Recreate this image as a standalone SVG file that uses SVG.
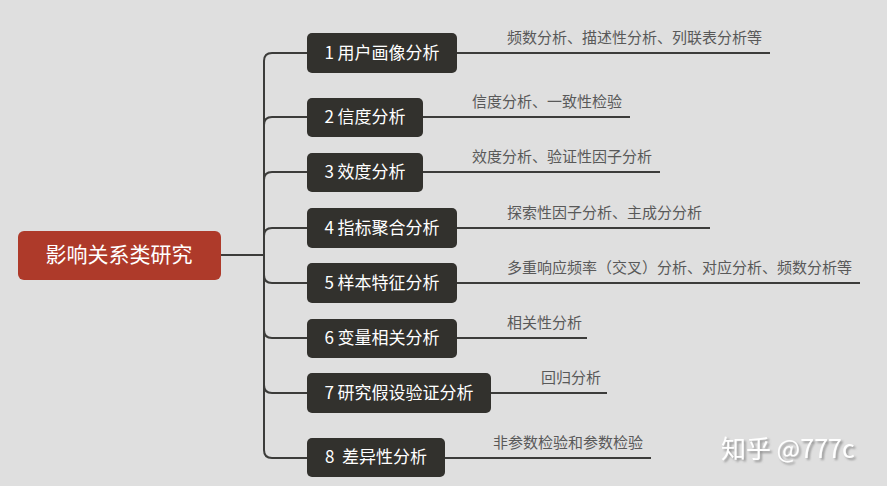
<svg xmlns="http://www.w3.org/2000/svg" width="887" height="486" viewBox="0 0 887 486">
<style>
.bg{fill:#dfdfdf}
.root{fill:#ae3a2a}
.node{fill:#32312d}
.rt{font-family:"Noto Sans CJK SC","Noto Sans",sans-serif;font-size:21px;fill:#ffffff;text-anchor:middle}
.nt{font-family:"Noto Sans CJK SC","Noto Sans",sans-serif;font-size:17px;fill:#ffffff;text-anchor:middle}
.lt{font-family:"Noto Sans CJK SC","Noto Sans",sans-serif;font-size:15px;fill:#595959}
.conn path{fill:none;stroke:#3c3c3a;stroke-width:2}
.wm{font-family:"Noto Sans CJK SC","Noto Sans",sans-serif;font-size:25px;fill:#ffffff}
</style>
<defs>
<filter id="shadow" x="-10%" y="-30%" width="120%" height="160%">
<feDropShadow dx="2" dy="2" stdDeviation="0.8" flood-color="#8a8a8a" flood-opacity="0.9"/>
</filter>
</defs>
<rect class="bg" x="0" y="0" width="887" height="486"/>
<g id="connectors" class="conn">
<path d="M221,255 L264,255"/>
<path d="M264,450 L264,61 Q264,53 272,53 L307,53"/>
<path d="M264,125 Q264,117 272,117 L307,117"/>
<path d="M264,180 Q264,172 272,172 L307,172"/>
<path d="M264,236 Q264,228 272,228 L307,228"/>
<path d="M264,275 Q264,283 272,283 L307,283"/>
<path d="M264,330 Q264,338 272,338 L307,338"/>
<path d="M264,385 Q264,393 272,393 L307,393"/>
<path d="M264,450 Q264,458 272,458 L307,458"/>
<path d="M457,53 L770,53"/>
<path d="M423,117 L630,117"/>
<path d="M423,172 L660,172"/>
<path d="M457,228 L710,228"/>
<path d="M457,283 L860,283"/>
<path d="M457,338 L587,338"/>
<path d="M491,393 L607,393"/>
<path d="M445,458 L651,458"/>
</g>
<g id="root">
<rect class="root" x="18" y="231" width="203" height="49" rx="6"/>
<text class="rt" x="119" y="262">影响关系类研究</text>
</g>
<g id="n1">
<rect class="node" x="307" y="33" width="150" height="40" rx="5"/>
<text class="nt" x="382" y="59">1 用户画像分析</text>
<text class="lt" x="507" y="43">频数分析、描述性分析、列联表分析等</text>
</g>
<g id="n2">
<rect class="node" x="307" y="98" width="116" height="39" rx="5"/>
<text class="nt" x="365" y="123">2 信度分析</text>
<text class="lt" x="472" y="107">信度分析、一致性检验</text>
</g>
<g id="n3">
<rect class="node" x="307" y="153" width="116" height="39" rx="5"/>
<text class="nt" x="365" y="178">3 效度分析</text>
<text class="lt" x="472" y="162">效度分析、验证性因子分析</text>
</g>
<g id="n4">
<rect class="node" x="307" y="208" width="150" height="40" rx="5"/>
<text class="nt" x="382" y="234">4 指标聚合分析</text>
<text class="lt" x="507" y="218">探索性因子分析、主成分分析</text>
</g>
<g id="n5">
<rect class="node" x="307" y="263" width="150" height="40" rx="5"/>
<text class="nt" x="382" y="289">5 样本特征分析</text>
<text class="lt" x="507" y="273">多重响应频率（交叉）分析、对应分析、频数分析等</text>
</g>
<g id="n6">
<rect class="node" x="307" y="319" width="150" height="39" rx="5"/>
<text class="nt" x="382" y="344">6 变量相关分析</text>
<text class="lt" x="507" y="328">相关性分析</text>
</g>
<g id="n7">
<rect class="node" x="307" y="373" width="184" height="40" rx="5"/>
<text class="nt" x="399" y="399">7 研究假设验证分析</text>
<text class="lt" x="541" y="383">回归分析</text>
</g>
<g id="n8">
<rect class="node" x="307" y="438" width="138" height="39" rx="5"/>
<text class="nt" x="376" y="463" xml:space="preserve" style="white-space:pre">8  差异性分析</text>
<text class="lt" x="493" y="448">非参数检验和参数检验</text>
</g>
<g id="watermark">
<text class="wm" x="721" y="458" filter="url(#shadow)">知乎 @777c</text>
</g>
</svg>
